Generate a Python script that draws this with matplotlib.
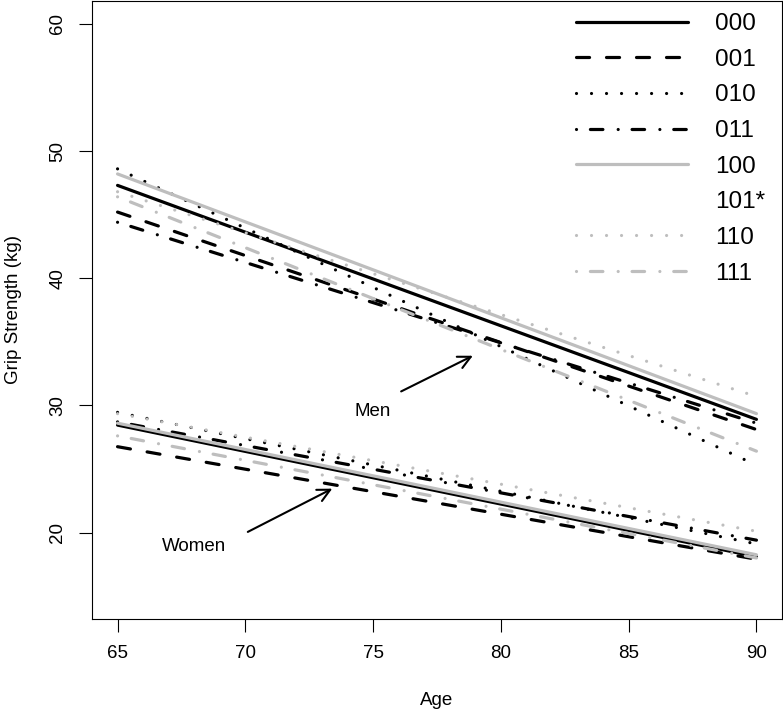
import numpy as np
import matplotlib
matplotlib.use("Agg")
import matplotlib.pyplot as plt
from matplotlib.lines import Line2D

plt.rcParams['font.family'] = ['Liberation Sans', 'DejaVu Sans']
plt.rcParams['lines.scale_dashes'] = False

# fitted lines, value at age 65 and at age 90
ages = [65, 90]
codes = ['000', '001', '010', '011', '100', '101*', '110', '111']
men_start = [47.3, 45.2, 48.6, 44.4, 48.2, np.nan, 46.8, 46.4]
men_end = [28.9, 28.1, 25.3, 28.6, 29.35, np.nan, 30.7, 26.4]
women_start = [28.45, 26.75, 29.45, 28.7, 28.6, np.nan, 29.35, 27.6]
women_end = [18.1, 17.9, 19.1, 19.4, 18.25, np.nan, 20.1, 18.0]
xticks = [65, 70, 75, 80, 85, 90]
yticks = [20, 30, 40, 50, 60]

gray = '#bebebe'
colors = ['black', 'black', 'black', 'black', gray, 'white', gray, gray]
kinds = ['solid', 'dashed', 'dotted', 'dotdash', 'solid', 'blank', 'dotted', 'dotdash']
dash_map = {
    'solid': None,
    'dashed': (0, (9.4, 12.2)),
    'dotted': (0, (0.01, 10.8)),
    'dotdash': (0, (0.01, 10.0, 9.0, 11.0)),
}
LW = 2.3


def style(kind, color):
    if kind == 'blank':
        return dict(linestyle='none', color=color)
    d = dict(color=color, linewidth=LW, solid_capstyle='round', dash_capstyle='round')
    if dash_map[kind] is not None:
        d['linestyle'] = dash_map[kind]
    return d


fig = plt.figure(figsize=(7.83, 7.15), dpi=100)
ax = fig.add_axes([92 / 783, 96 / 715, 690 / 783, 618 / 715])

handles = []
for i, code in enumerate(codes):
    st = style(kinds[i], colors[i])
    if kinds[i] != 'blank':
        ax.plot(ages, [men_start[i], men_end[i]], **st)
        ax.plot(ages, [women_start[i], women_end[i]], **st)
    handles.append(Line2D([], [], **st))

ax.set_xlim(64, 91)
ax.set_ylim(13.2, 61.8)
ax.set_xticks(xticks)
ax.set_yticks(yticks)
ax.set_yticklabels([str(v) for v in yticks], rotation=90, va='center')
ax.tick_params(length=9.4, width=0.8, labelsize=13.5, pad=9)
for sp in ax.spines.values():
    sp.set_linewidth(0.8)
ax.set_xlabel('Age', fontsize=13.5, labelpad=22)
ax.set_ylabel('Grip Strength (kg)', fontsize=13.5, labelpad=20)

ax.annotate('', xy=(79, 34), xytext=(76, 31),
            arrowprops=dict(arrowstyle='->,head_length=0.9,head_width=0.45', lw=1.5, color='black'))
ax.text(75, 29.5, 'Men', fontsize=13.5, ha='center', va='center')
ax.annotate('', xy=(73.5, 23.55), xytext=(70, 19.95),
            arrowprops=dict(arrowstyle='->,head_length=0.9,head_width=0.45', lw=1.5, color='black'))
ax.text(68, 18.9, 'Women', fontsize=13.5, ha='center', va='center')

ax.legend(handles, codes, loc='upper right', bbox_to_anchor=(1.0 - 5 / 690, 1.0), frameon=False,
          fontsize=17.5, handlelength=4.6, handletextpad=1.1, labelspacing=0.56,
          borderaxespad=0.1)

fig.savefig('out.png', dpi=100)
